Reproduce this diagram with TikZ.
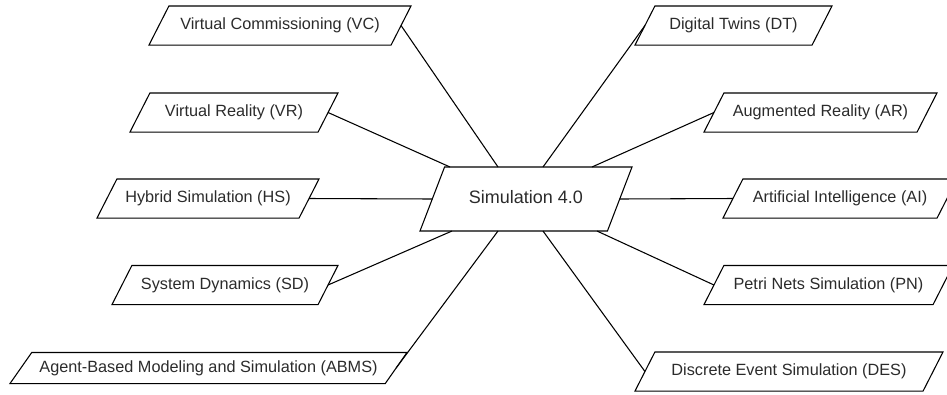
\documentclass[tikz,border=0pt]{standalone}
\usepackage{fontspec}
\setmainfont{Liberation Sans}
\usetikzlibrary{shapes.geometric,calc}
\definecolor{txtgray}{HTML}{2B2B2B}
\begin{document}
\begin{tikzpicture}[x=0.75pt, y=-0.75pt,
    para/.style = {draw, trapezium, trapezium left angle=63, trapezium right angle=117,
      trapezium stretches body, text height=9.2pt, text depth=2.7pt,
      inner xsep=0pt, inner ysep=8.7pt, outer sep=0pt, text=txtgray,
      font=\fontsize{12.2}{14}\selectfont, line width=0.8pt},
    link/.style = {line width=0.8pt}]
  \useasboundingbox (0,0) rectangle (947,394);
  % hub
  \node[para, minimum width=159pt, text height=10pt, text depth=3pt, inner ysep=17.5pt,
    font=\fontsize{13.5}{16}\selectfont,
    trapezium left angle=69, trapezium right angle=111] (sim) at (526,199) {Simulation 4.0};
  % left column
  \node[para, minimum width=196.5pt] (vc) at (280,25.5) {Virtual Commissioning (VC)};
  \node[para, minimum width=156pt] (vr) at (234,112.5) {Virtual Reality (VR)};
  \node[para, minimum width=166.5pt] (hs) at (208,198.5) {Hybrid Simulation (HS)};
  \node[para, minimum width=169.5pt] (sd) at (225,285) {System Dynamics (SD)};
  \node[para, minimum width=297.75pt, inner ysep=5.7pt,
    trapezium left angle=55, trapezium right angle=125] (abms) at (208.5,368) {Agent-Based Modeling and Simulation (ABMS)};
  % right column
  \node[para, minimum width=147.75pt] (dt) at (733.5,25.5) {Digital Twins (DT)};
  \node[para, minimum width=174.75pt] (ar) at (820.5,112.5) {Augmented Reality (AR)};
  \node[para, minimum width=175.5pt] (ai) at (840,198.5) {Artificial Intelligence (AI)};
  \node[para, minimum width=186.75pt] (pn) at (828.5,285) {Petri Nets Simulation (PN)};
  \node[para, minimum width=231pt] (des) at (789,371.5) {Discrete Event Simulation (DES)};
  %
  \draw[link] (vc.right side) -- ($(sim.center |- sim.north)+(-28,0)$);
  \draw[link] (vr.right side) -- ($(sim.center |- sim.north)+(-76,0)$);
  \draw[link] (hs.right side) -- (sim.left side);
  \draw[link] (sd.right side) -- ($(sim.center |- sim.south)+(-74,0)$);
  \draw[link] (abms.right side) -- ($(sim.center |- sim.south)+(-28,0)$);
  \draw[link] (dt.left side) -- ($(sim.center |- sim.north)+(17,0)$);
  \draw[link] (ar.left side) -- ($(sim.center |- sim.north)+(66,0)$);
  \draw[link] (ai.left side) -- (sim.right side);
  \draw[link] (pn.left side) -- ($(sim.center |- sim.south)+(71,0)$);
  \draw[link] (des.left side) -- ($(sim.center |- sim.south)+(17,0)$);
\end{tikzpicture}
\end{document}
